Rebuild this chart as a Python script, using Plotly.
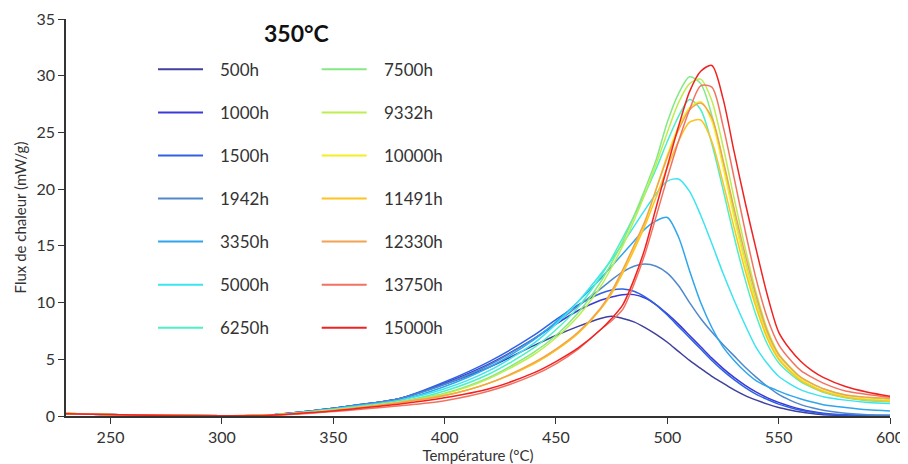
import plotly.graph_objects as go

# Temperature grid (°C)
temps = [230, 260, 300, 320, 340, 360, 380, 400, 420, 440, 450, 460, 470, 475, 480, 485,
         490, 495, 500, 505, 510, 515, 520, 525, 530, 535, 540, 545, 550, 555, 560, 565, 570, 580, 590, 600]

labels = ["500h", "1000h", "1500h", "1942h", "3350h", "5000h", "6250h",
          "7500h", "9332h", "10000h", "11491h", "12330h", "13750h", "15000h"]

colors = ["#40409e", "#3a3ad6", "#2f62e2", "#5088cc", "#2ea6ee", "#3ce4f0", "#4cf0c4",
          "#84e884", "#bcee50", "#f2f020", "#ffc21e", "#f2a252", "#f27262", "#f02222"]

flux_500 = [0.20, 0.08, 0.03, 0.08, 0.45, 0.95, 1.55, 2.8, 4.3, 6.2, 7.1, 7.9, 8.6, 8.8, 8.6, 8.3,
            7.8, 7.2, 6.5, 5.7, 4.9, 4.2, 3.5, 2.9, 2.3, 1.8, 1.4, 1.05, 0.75, 0.53, 0.35, 0.22, 0.12, 0.04, 0.02, 0.01]
flux_1000 = [0.20, 0.08, 0.03, 0.08, 0.45, 0.95, 1.55, 2.9, 4.6, 6.8, 8.1, 9.3, 10.2, 10.5, 10.7, 10.7,
             10.4, 9.8, 9.0, 8.1, 7.1, 6.1, 5.1, 4.2, 3.4, 2.7, 2.1, 1.6, 1.2, 0.87, 0.6, 0.4, 0.25, 0.1, 0.05, 0.02]
flux_1500 = [0.20, 0.08, 0.03, 0.08, 0.45, 0.95, 1.55, 3.0, 4.8, 7.1, 8.5, 9.8, 10.8, 11.1, 11.2, 11.0,
             10.5, 9.8, 8.9, 7.9, 6.9, 5.9, 4.9, 4.0, 3.2, 2.5, 1.9, 1.45, 1.05, 0.75, 0.5, 0.33, 0.2, 0.08, 0.04, 0.02]
flux_1942 = [0.20, 0.08, 0.03, 0.08, 0.45, 0.95, 1.55, 2.8, 4.5, 6.8, 8.2, 9.7, 11.2, 12.0, 12.7, 13.2,
             13.4, 13.2, 12.6, 11.5, 10.0, 8.6, 7.4, 6.3, 5.3, 4.3, 3.4, 2.6, 1.9, 1.4, 1.0, 0.72, 0.5, 0.25, 0.12, 0.08]
flux_3350 = [0.20, 0.08, 0.03, 0.08, 0.40, 0.85, 1.40, 2.6, 4.3, 6.7, 8.3, 10.1, 12.1, 13.2, 14.3, 15.4,
             16.5, 17.2, 17.5, 15.8, 12.8, 10.0, 7.8, 6.1, 4.9, 3.9, 3.1, 2.6, 2.2, 1.82, 1.5, 1.23, 1.0, 0.75, 0.55, 0.45]
flux_5000 = [0.20, 0.08, 0.03, 0.08, 0.40, 0.85, 1.40, 2.4, 4.0, 6.4, 8.1, 10.1, 12.5, 13.8, 15.2, 16.7,
             18.2, 19.6, 20.7, 20.9, 19.8, 17.7, 15.2, 12.6, 10.2, 8.0, 6.0, 4.6, 3.5, 2.83, 2.3, 1.97, 1.7, 1.4, 1.2, 1.1]
flux_6250 = [0.22, 0.08, 0.03, 0.07, 0.35, 0.75, 1.25, 2.2, 3.7, 6.0, 7.6, 9.6, 12.3, 13.9, 15.7, 17.6,
             19.6, 21.8, 24.2, 26.4, 27.9, 27.0, 24.0, 20.0, 15.8, 12.0, 8.8, 6.3, 4.7, 3.75, 3.0, 2.5, 2.1, 1.6, 1.35, 1.25]
flux_7500 = [0.22, 0.08, 0.03, 0.07, 0.35, 0.75, 1.25, 2.0, 3.4, 5.6, 7.1, 9.1, 11.8, 13.5, 15.4, 17.6,
             20.0, 22.6, 25.9, 28.4, 29.9, 29.3, 26.5, 22.3, 17.8, 13.6, 10.0, 7.1, 5.1, 4.05, 3.2, 2.65, 2.2, 1.7, 1.45, 1.3]
flux_9332 = [0.22, 0.08, 0.03, 0.07, 0.35, 0.75, 1.25, 1.95, 3.3, 5.4, 6.9, 8.8, 11.4, 13.1, 15.0, 17.2,
             19.6, 22.2, 25.0, 27.6, 29.3, 29.7, 27.8, 23.8, 19.2, 14.8, 10.8, 7.6, 5.5, 4.35, 3.4, 2.85, 2.4, 1.85, 1.6, 1.45]
flux_10000 = [0.25, 0.08, 0.03, 0.06, 0.30, 0.70, 1.20, 1.8, 2.9, 4.6, 5.8, 7.3, 9.4, 10.9, 12.8, 14.8,
              17.0, 20.0, 23.0, 25.5, 27.2, 27.7, 26.0, 22.0, 17.5, 13.4, 9.8, 7.0, 5.1, 4.05, 3.2, 2.65, 2.2, 1.7, 1.45, 1.35]
flux_11491 = [0.25, 0.08, 0.03, 0.06, 0.30, 0.70, 1.20, 1.8, 2.9, 4.6, 5.8, 7.3, 9.4, 10.8, 12.6, 14.6,
              16.8, 19.3, 21.9, 24.2, 25.9, 26.1, 24.2, 20.6, 16.6, 12.8, 9.5, 6.8, 5.0, 3.95, 3.1, 2.58, 2.15, 1.65, 1.4, 1.3]
flux_12330 = [0.25, 0.08, 0.03, 0.06, 0.30, 0.70, 1.20, 1.8, 2.9, 4.7, 5.9, 7.4, 9.5, 11.0, 12.9, 15.0,
              17.2, 20.0, 22.8, 25.2, 27.0, 27.6, 26.3, 22.6, 18.3, 14.2, 10.5, 7.4, 5.4, 4.3, 3.4, 2.85, 2.4, 1.85, 1.65, 1.55]
flux_13750 = [0.20, 0.08, 0.03, 0.05, 0.25, 0.55, 0.90, 1.35, 2.2, 3.6, 4.6, 5.9, 7.6, 8.4, 9.4, 11.6,
              14.3, 17.6, 21.0, 24.2, 27.0, 29.1, 29.0, 25.6, 21.0, 16.3, 12.0, 8.6, 6.3, 5.0, 4.0, 3.4, 2.9, 2.2, 1.9, 1.65]
flux_15000 = [0.20, 0.08, 0.03, 0.05, 0.30, 0.65, 1.05, 1.6, 2.4, 3.8, 4.8, 6.0, 7.6, 8.6, 9.8, 12.0,
              14.8, 18.4, 22.0, 25.5, 28.6, 30.4, 30.9, 28.0, 23.3, 18.8, 14.6, 10.6, 7.4, 5.9, 4.8, 4.0, 3.4, 2.6, 2.1, 1.75]

series = [flux_500, flux_1000, flux_1500, flux_1942, flux_3350, flux_5000, flux_6250,
          flux_7500, flux_9332, flux_10000, flux_11491, flux_12330, flux_13750, flux_15000]

x_ticks = [250, 300, 350, 400, 450, 500, 550, 600]
y_ticks = [0, 5, 10, 15, 20, 25, 30, 35]

FONT = "Lato"
TXT = "#333333"

fig = go.Figure()
for name, col, ys in zip(labels, colors, series):
    fig.add_trace(go.Scatter(x=temps, y=ys, mode="lines", name=name,
                             line=dict(color=col, width=1.5, shape="spline", smoothing=0.8),
                             showlegend=False))

# manual two-column legend (paper coordinates)
row_y = [0.8733, 0.7645, 0.6562, 0.5479, 0.4395, 0.3305, 0.2224]
shapes = []
annots = []
for i, (name, col) in enumerate(zip(labels, colors)):
    c = i // 7
    r = i % 7
    x0, x1, xt = (0.1117, 0.1663, 0.1848) if c == 0 else (0.3103, 0.3649, 0.3831)
    shapes.append(dict(type="line", xref="paper", yref="paper", x0=x0, x1=x1,
                       y0=row_y[r], y1=row_y[r], line=dict(color=col, width=2)))
    annots.append(dict(text=name, xref="paper", yref="paper", x=xt, y=row_y[r],
                       xanchor="left", yanchor="middle", showarrow=False,
                       font=dict(family=FONT, size=17, color=TXT)))
annots.append(dict(text="<b>350°C</b>", xref="paper", yref="paper", x=0.280, y=0.9647,
                   xanchor="center", yanchor="middle", showarrow=False,
                   font=dict(family=FONT, size=23, color="#111111")))

fig.update_layout(
    width=900, height=456,
    margin=dict(l=58, r=18, t=11, b=48),
    paper_bgcolor="white", plot_bgcolor="white",
    shapes=shapes, annotations=annots,
    font=dict(family=FONT, color=TXT),
)
fig.update_xaxes(range=[230, 600], tickvals=x_ticks, showline=True, linecolor="#333333",
                 linewidth=1.5, ticks="outside", ticklen=6, tickcolor="#333333", automargin=False,
                 ticklabeloverflow="allow",
                 showgrid=False, zeroline=False, tickfont=dict(family=FONT, size=16, color=TXT),
                 title=dict(text="Température (°C)", font=dict(family=FONT, size=15, color=TXT), standoff=1))
fig.update_yaxes(range=[0, 35], tickvals=y_ticks, showline=True, linecolor="#333333",
                 linewidth=1.5, ticks="outside", ticklen=6, tickcolor="#333333", automargin=False,
                 ticklabeloverflow="allow",
                 showgrid=False, zeroline=False, tickfont=dict(family=FONT, size=16, color=TXT),
                 title=dict(text="Flux de chaleur (mW/g)", font=dict(family=FONT, size=15, color=TXT), standoff=6))

fig.write_html("out.html")
